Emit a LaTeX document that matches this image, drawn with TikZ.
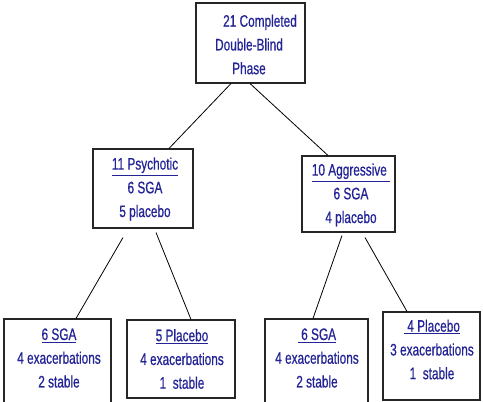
\documentclass[tikz,border=0pt]{standalone}
\usepackage{fontspec}
\setmainfont[FakeStretch=0.71,FakeBold=0.6]{Liberation Sans}
\usetikzlibrary{calc}
\definecolor{txtblue}{RGB}{35,35,150}
\begin{document}
\begin{tikzpicture}[x=0.75pt,y=-0.75pt,
  boxst/.style={draw=black!85, line width=0.8pt, rectangle, inner sep=0pt},
  txtst/.style={align=center, inner sep=0pt, text=txtblue, font=\fontsize{12.5}{17.8}\selectfont},
  conn/.style={draw=black, line width=0.6pt}]
\useasboundingbox (0,0) rectangle (483,402);
\begin{scope}
\clip (0,0) rectangle (483,402);
% boxes
\node[boxst, minimum width=109*0.75pt, minimum height=80*0.75pt] (T) at (250.5,43) {};
\node[boxst, minimum width=100*0.75pt, minimum height=79*0.75pt] (P) at (143,188.5) {};
\node[boxst, minimum width=93*0.75pt, minimum height=76*0.75pt] (A) at (348.5,194) {};
\node[boxst, minimum width=107*0.75pt, minimum height=91*0.75pt] (B1) at (57.5,364.5) {};
\node[boxst, minimum width=108*0.75pt, minimum height=78*0.75pt] (B2) at (181,359) {};
\node[boxst, minimum width=103*0.75pt, minimum height=87*0.75pt] (B3) at (316.5,362.5) {};
\node[boxst, minimum width=97*0.75pt, minimum height=88*0.75pt] (B4) at (431.5,356) {};
\end{scope}
% texts
\node[txtst] (Tt) at (249,44.5) {\hspace*{16.5pt}21 Completed\\Double-Blind\\Phase};
\node[txtst] (Pt) at (145,189) {\underline{11 Psychotic}\\6 SGA\\5 placebo};
\node[txtst] (At) at (351,195) {\underline{10 Aggressive\ }\\6 SGA\\4 placebo};
\node[txtst] (B1t) at (59,358) {\underline{6 SGA}\\4 exacerbations\\2 stable};
\node[txtst] (B2t) at (182,359) {\underline{5 Placebo}\\4 exacerbations\\1\ \ stable};
\node[txtst] (B3t) at (317,358) {\underline{\ 6 SGA}\\4 exacerbations\\2 stable};
\node[txtst] (B4t) at (432,349.5) {\underline{\ 4 Placebo}\\3 exacerbations\\1\ \ stable};
% connectors
\draw[conn] ($(T.south)+(-19.5,0)$) -- ($(P.north)+(26,0)$);
\draw[conn] ($(T.south)+(-0.5,0)$) -- ($(A.north)+(-20.5,0)$);
\draw[conn] ($(P.south)+(-20,9)$) -- ($(B1.north)+(18.5,0)$);
\draw[conn] ($(P.south)+(13,4)$) -- ($(B2.north)+(10,0)$);
\draw[conn] ($(A.south)+(-6.5,3)$) -- ($(B3.north)+(-3.5,0)$);
\draw[conn] ($(A.south)+(16.5,5)$) -- ($(B4.north)+(-24.5,0)$);
\end{tikzpicture}
\end{document}
